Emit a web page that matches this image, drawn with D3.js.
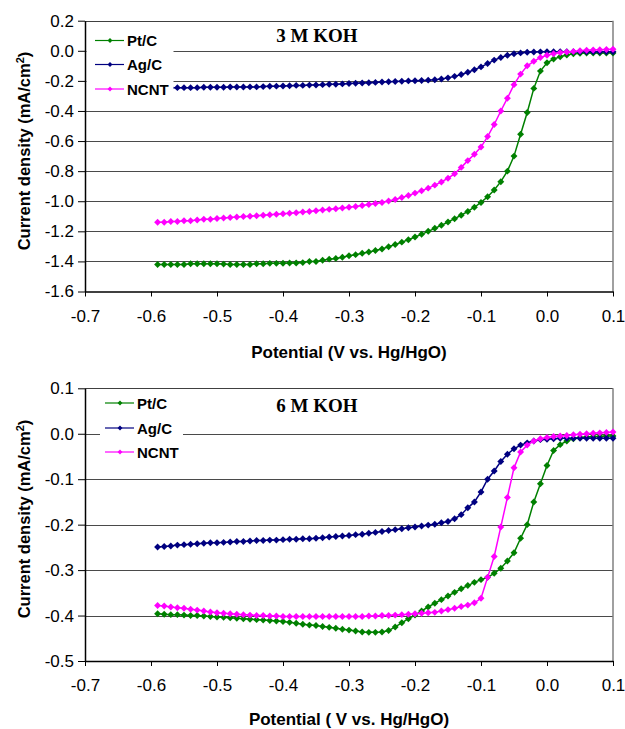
<!DOCTYPE html>
<html>
<head>
<meta charset="utf-8">
<script src="https://cdn.jsdelivr.net/npm/d3@7/dist/d3.min.js"></script>
<style>
  html, body { margin: 0; padding: 0; background: #fff; }
  svg { display: block; }
</style>
</head>
<body>
<svg id="chart" width="625" height="729"></svg>
<script>
// ---------------- DATA ----------------
const potentials = [
  -0.59,-0.58,-0.57,-0.56,-0.55,-0.54,-0.53,-0.52,-0.51,-0.50,
  -0.49,-0.48,-0.47,-0.46,-0.45,-0.44,-0.43,-0.42,-0.41,-0.40,
  -0.39,-0.38,-0.37,-0.36,-0.35,-0.34,-0.33,-0.32,-0.31,-0.30,
  -0.29,-0.28,-0.27,-0.26,-0.25,-0.24,-0.23,-0.22,-0.21,-0.20,
  -0.19,-0.18,-0.17,-0.16,-0.15,-0.14,-0.13,-0.12,-0.11,-0.10,
  -0.09,-0.08,-0.07,-0.06,-0.05,-0.04,-0.03,-0.02,-0.01,0.00,
  0.01,0.02,0.03,0.04,0.05,0.06,0.07,0.08,0.09,0.10
];

const seriesNames = ["Pt/C", "Ag/C", "NCNT"];

// 3 M KOH
const ptc3M = [
  -1.42,-1.42,-1.42,-1.42,-1.42,-1.415,-1.415,-1.415,-1.415,-1.415,
  -1.418,-1.42,-1.42,-1.42,-1.42,-1.415,-1.415,-1.413,-1.413,-1.412,
  -1.41,-1.41,-1.408,-1.40,-1.40,-1.392,-1.385,-1.38,-1.372,-1.362,
  -1.355,-1.346,-1.337,-1.327,-1.317,-1.303,-1.288,-1.272,-1.256,-1.238,
  -1.22,-1.20,-1.18,-1.16,-1.138,-1.116,-1.093,-1.068,-1.04,-1.008,
  -0.97,-0.925,-0.87,-0.80,-0.70,-0.555,-0.41,-0.25,-0.135,-0.08,
  -0.055,-0.04,-0.028,-0.02,-0.016,-0.015,-0.015,-0.015,-0.015,-0.015
];
const agc3M = [
  -0.245,-0.245,-0.245,-0.245,-0.245,-0.245,-0.245,-0.242,-0.242,-0.242,
  -0.242,-0.241,-0.241,-0.241,-0.24,-0.24,-0.238,-0.236,-0.235,-0.234,
  -0.232,-0.23,-0.23,-0.228,-0.227,-0.225,-0.223,-0.222,-0.22,-0.218,
  -0.216,-0.214,-0.212,-0.21,-0.208,-0.206,-0.204,-0.202,-0.20,-0.199,
  -0.197,-0.195,-0.192,-0.188,-0.18,-0.17,-0.158,-0.143,-0.126,-0.107,
  -0.085,-0.062,-0.045,-0.03,-0.02,-0.014,-0.01,-0.008,-0.007,-0.006,
  -0.006,-0.006,-0.006,-0.006,-0.006,-0.006,-0.006,-0.006,-0.006,-0.006
];
const ncnt3M = [
  -1.14,-1.14,-1.135,-1.135,-1.13,-1.13,-1.125,-1.12,-1.12,-1.115,
  -1.112,-1.108,-1.105,-1.102,-1.10,-1.097,-1.093,-1.09,-1.087,-1.083,
  -1.08,-1.076,-1.072,-1.068,-1.063,-1.058,-1.054,-1.05,-1.045,-1.04,
  -1.035,-1.028,-1.022,-1.015,-1.008,-0.998,-0.988,-0.975,-0.962,-0.946,
  -0.93,-0.913,-0.893,-0.872,-0.847,-0.818,-0.775,-0.73,-0.688,-0.64,
  -0.57,-0.49,-0.40,-0.315,-0.225,-0.155,-0.10,-0.07,-0.045,-0.03,
  -0.02,-0.012,-0.008,-0.004,0.0,0.003,0.005,0.007,0.009,0.01
];

// 6 M KOH
const ptc6M = [
  -0.396,-0.397,-0.398,-0.398,-0.399,-0.40,-0.40,-0.401,-0.402,-0.403,
  -0.404,-0.405,-0.406,-0.407,-0.408,-0.409,-0.41,-0.411,-0.412,-0.413,
  -0.415,-0.417,-0.419,-0.421,-0.422,-0.424,-0.426,-0.428,-0.43,-0.432,
  -0.434,-0.436,-0.437,-0.437,-0.436,-0.433,-0.425,-0.416,-0.407,-0.399,
  -0.39,-0.381,-0.373,-0.365,-0.357,-0.349,-0.341,-0.334,-0.327,-0.321,
  -0.316,-0.307,-0.296,-0.28,-0.262,-0.23,-0.20,-0.15,-0.11,-0.07,
  -0.037,-0.024,-0.016,-0.011,-0.008,-0.007,-0.006,-0.006,-0.005,-0.005
];
const agc6M = [
  -0.249,-0.248,-0.247,-0.245,-0.244,-0.243,-0.242,-0.241,-0.24,-0.24,
  -0.239,-0.238,-0.237,-0.237,-0.236,-0.235,-0.235,-0.234,-0.234,-0.233,
  -0.232,-0.232,-0.231,-0.231,-0.23,-0.229,-0.227,-0.226,-0.225,-0.224,
  -0.222,-0.221,-0.219,-0.217,-0.215,-0.213,-0.211,-0.209,-0.207,-0.205,
  -0.203,-0.201,-0.199,-0.196,-0.193,-0.187,-0.178,-0.163,-0.15,-0.128,
  -0.10,-0.082,-0.061,-0.045,-0.033,-0.025,-0.02,-0.016,-0.013,-0.012,
  -0.011,-0.01,-0.01,-0.01,-0.01,-0.01,-0.01,-0.01,-0.01,-0.01
];
const ncnt6M = [
  -0.378,-0.379,-0.381,-0.383,-0.384,-0.386,-0.388,-0.39,-0.392,-0.394,
  -0.395,-0.396,-0.397,-0.398,-0.399,-0.40,-0.40,-0.401,-0.401,-0.402,
  -0.402,-0.402,-0.402,-0.402,-0.402,-0.402,-0.402,-0.402,-0.402,-0.402,
  -0.402,-0.402,-0.401,-0.401,-0.40,-0.40,-0.399,-0.398,-0.397,-0.396,
  -0.395,-0.394,-0.393,-0.39,-0.387,-0.384,-0.38,-0.377,-0.372,-0.362,
  -0.316,-0.27,-0.205,-0.14,-0.075,-0.04,-0.025,-0.016,-0.011,-0.008,
  -0.006,-0.005,-0.004,-0.002,-0.001,0.0,0.001,0.002,0.003,0.004
];

const xTicks = [-0.7,-0.6,-0.5,-0.4,-0.3,-0.2,-0.1,0.0,0.1];
const yTicks3M = [0.2,0.0,-0.2,-0.4,-0.6,-0.8,-1.0,-1.2,-1.4,-1.6];
const yTicks6M = [0.1,0.0,-0.1,-0.2,-0.3,-0.4,-0.5];

const seriesColors = ["#008000", "#000080", "#FF00FF"];

// ---------------- DRAW ----------------
const svg = d3.select("#chart");
const FONT = "'Liberation Sans', Arial, sans-serif";
const marker = d3.symbol().type(d3.symbolSquare).size(24);

function drawPanel(cfg) {
  const x = d3.scaleLinear().domain([-0.7, 0.1]).range([85, 613]);
  const y = d3.scaleLinear().domain(cfg.yDomain).range([cfg.bottom, cfg.top]);
  const g = svg.append("g");

  // gridlines
  g.append("g").selectAll("line")
    .data(cfg.yTicks.filter(v => v !== cfg.yDomain[0] && v !== cfg.yDomain[1]))
    .join("line")
    .attr("x1", 85).attr("x2", 613)
    .attr("y1", d => Math.round(y(d)) + 0.5).attr("y2", d => Math.round(y(d)) + 0.5)
    .attr("stroke", "#4a4a4a").attr("stroke-width", 1);

  // frame top & right
  g.append("line").attr("x1", 85).attr("x2", 613)
    .attr("y1", Math.round(cfg.top) + 0.5).attr("y2", Math.round(cfg.top) + 0.5)
    .attr("stroke", "#404040").attr("stroke-width", 1.2);
  g.append("line").attr("x1", 613).attr("x2", 613)
    .attr("y1", cfg.top).attr("y2", cfg.bottom)
    .attr("stroke", "#808080").attr("stroke-width", 1.5);

  // series
  cfg.series.forEach((vals, i) => {
    const pts = potentials.map((p, k) => [p, vals[k]]);
    const line = d3.line().x(d => x(d[0])).y(d => y(d[1]));
    g.append("path").datum(pts)
      .attr("d", line).attr("fill", "none")
      .attr("stroke", seriesColors[i]).attr("stroke-width", 1.5);
    g.append("g").selectAll("path")
      .data(pts).join("path")
      .attr("d", marker)
      .attr("transform", d => `translate(${x(d[0])},${y(d[1])}) rotate(45)`)
      .attr("fill", seriesColors[i]);
  });

  // legend
  const lg = g.append("g");
  lg.append("rect")
    .attr("x", cfg.legend.x).attr("y", cfg.legend.y)
    .attr("width", cfg.legend.w).attr("height", cfg.legend.h)
    .attr("fill", "#fff");
  seriesNames.forEach((name, i) => {
    const yy = cfg.legend.rowY[i];
    lg.append("line")
      .attr("x1", cfg.legend.lineX).attr("x2", cfg.legend.lineX + 29)
      .attr("y1", yy).attr("y2", yy)
      .attr("stroke", seriesColors[i]).attr("stroke-width", 1.2);
    lg.append("path")
      .attr("d", d3.symbol().type(d3.symbolSquare).size(12))
      .attr("transform", `translate(${cfg.legend.lineX + 15},${yy}) rotate(45)`)
      .attr("fill", seriesColors[i]);
    lg.append("text")
      .attr("x", cfg.legend.lineX + 32).attr("y", yy + 5.5)
      .attr("font-family", FONT).attr("font-size", 15).attr("font-weight", "bold")
      .attr("fill", "#000")
      .text(name);
  });

  // title
  g.append("text")
    .attr("x", 317).attr("y", cfg.titleY)
    .attr("text-anchor", "middle")
    .attr("font-family", "'Liberation Serif', 'Times New Roman', serif")
    .attr("font-size", 19).attr("font-weight", "bold")
    .text(cfg.title);

  // y axis
  const ya = g.append("g").attr("transform", "translate(85,0)")
    .call(d3.axisLeft(y).tickValues(cfg.yTicks).tickSize(7).tickSizeOuter(0)
      .tickPadding(4).tickFormat(d => d.toFixed(1)));
  ya.selectAll("text").attr("font-family", FONT).attr("font-size", 17).attr("fill", "#000");
  ya.select(".domain").attr("stroke", "#000").attr("stroke-width", 1.5);
  ya.selectAll(".tick line").attr("stroke", "#000");

  // x axis
  const xa = g.append("g").attr("transform", `translate(0,${cfg.bottom})`)
    .call(d3.axisBottom(x).tickValues(xTicks).tickSize(5).tickSizeOuter(0)
      .tickPadding(13).tickFormat(d => d.toFixed(1)));
  xa.selectAll("text").attr("font-family", FONT).attr("font-size", 17).attr("fill", "#000");
  xa.select(".domain").attr("stroke", "#000").attr("stroke-width", 1.5);
  xa.selectAll(".tick line").attr("stroke", "#000");

  // x title
  g.append("text")
    .attr("x", 349).attr("y", cfg.xTitleY)
    .attr("text-anchor", "middle")
    .attr("font-family", FONT).attr("font-size", 17).attr("font-weight", "bold")
    .text(cfg.xTitle);

  // y title
  const yt = g.append("text")
    .attr("transform", `translate(30,${cfg.yTitleC}) rotate(-90)`)
    .attr("text-anchor", "middle")
    .attr("font-family", FONT).attr("font-size", 16.5).attr("font-weight", "bold");
  yt.append("tspan").text("Current density (mA/cm");
  yt.append("tspan").attr("font-size", 11).attr("dy", -6).text("2");
  yt.append("tspan").attr("dy", 6).text(")");
}

drawPanel({
  yDomain: [-1.6, 0.2], yTicks: yTicks3M, top: 20.7, bottom: 291.5,
  series: [ptc3M, agc3M, ncnt3M],
  title: "3 M KOH", titleY: 42,
  legend: { x: 86.5, y: 24, w: 87, h: 74, lineX: 95, rowY: [40.5, 64.5, 89] },
  xTitle: "Potential (V vs. Hg/HgO)", xTitleY: 358, yTitleC: 151
});

drawPanel({
  yDomain: [-0.5, 0.1], yTicks: yTicks6M, top: 388.3, bottom: 661,
  series: [ptc6M, agc6M, ncnt6M],
  title: "6 M KOH", titleY: 412,
  legend: { x: 100, y: 392, w: 83, h: 72, lineX: 105, rowY: [403, 428, 452] },
  xTitle: "Potential ( V vs. Hg/HgO)", xTitleY: 725, yTitleC: 519
});
</script>
</body>
</html>
